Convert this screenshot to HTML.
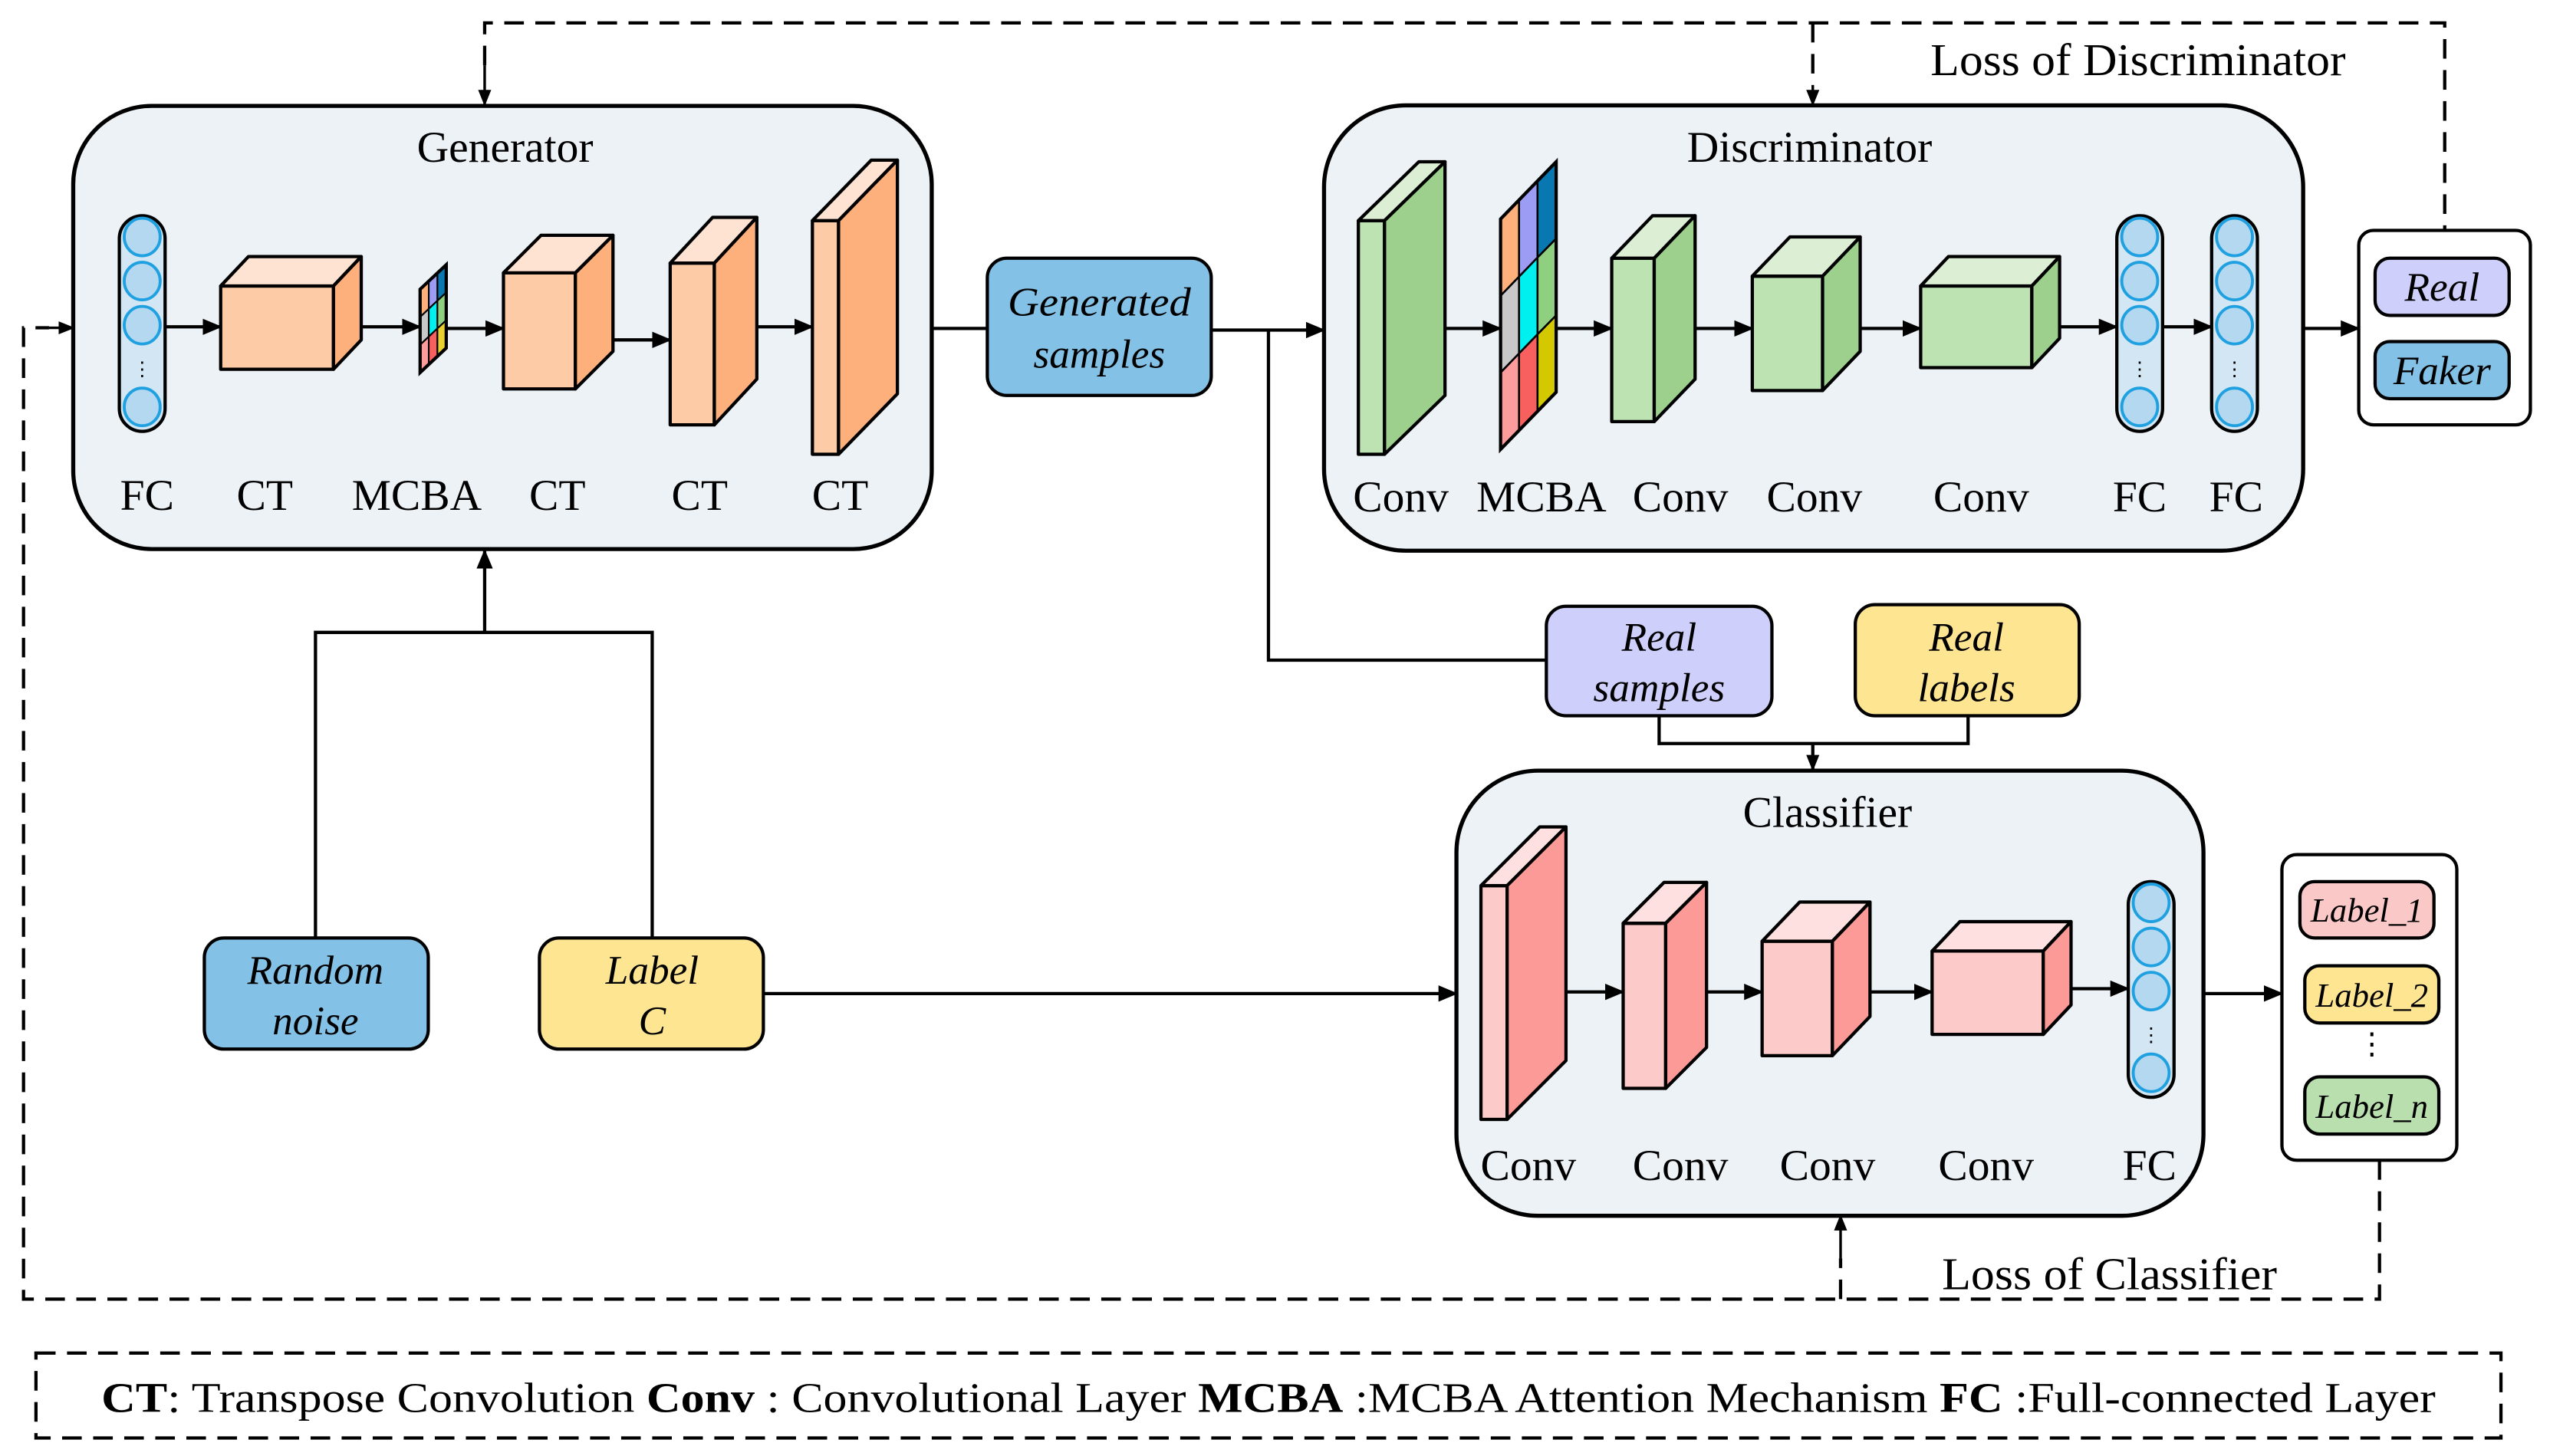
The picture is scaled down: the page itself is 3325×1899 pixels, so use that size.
<!DOCTYPE html>
<html><head><meta charset="utf-8">
<style>html,body{margin:0;padding:0;background:#fff;}svg{display:block;}</style></head>
<body>
<svg width="3325" height="1899" viewBox="0 0 1560 891" preserveAspectRatio="none" xmlns="http://www.w3.org/2000/svg" font-family="'Liberation Serif', serif">
<defs>
<marker id="ah" markerUnits="userSpaceOnUse" markerWidth="12" markerHeight="10" refX="11" refY="5" orient="auto"><path d="M0,0 L12,5 L0,10 Z" fill="#000"/></marker>
<marker id="ahs" markerUnits="userSpaceOnUse" markerWidth="10" markerHeight="8" refX="9" refY="4" orient="auto"><path d="M0,0 L10,4 L0,8 Z" fill="#000"/></marker>
</defs>
<g stroke="#000" fill="none" stroke-width="2" stroke-dasharray="12,7">
<polyline points="296.5,40 296.5,14 1495.6,14 1495.6,141"/>
<line x1="1109" y1="14" x2="1109" y2="52"/>
<polyline points="1455.7,710 1455.7,795 14.4,795 14.4,200.6 30,200.6"/>
<line x1="1126" y1="795" x2="1126" y2="770"/>
<rect x="22" y="828" width="1508" height="52"/>
</g>
<g stroke="#000" stroke-width="1.6">
<line x1="296.5" y1="40" x2="296.5" y2="64" marker-end="url(#ahs)"/>
<line x1="1109" y1="52" x2="1109" y2="64" marker-end="url(#ahs)"/>
<line x1="30" y1="200.6" x2="44.8" y2="200.6" marker-end="url(#ahs)"/>
<line x1="1126" y1="770" x2="1126" y2="744" marker-end="url(#ahs)"/>
</g>
<text x="1181" y="46" font-size="28" textLength="254" lengthAdjust="spacingAndGlyphs">Loss of Discriminator</text>
<text x="1188" y="789" font-size="28" textLength="205" lengthAdjust="spacingAndGlyphs">Loss of Classifier</text>

<g stroke="#000" stroke-width="2" fill="none">
<line x1="570" y1="201" x2="604" y2="201"/>
<line x1="741" y1="202" x2="810" y2="202" marker-end="url(#ah)"/>
<polyline points="776,202 776,404 946,404"/>
<polyline points="1015,438 1015,455 1204,455 1204,438"/>
<line x1="1109" y1="455" x2="1109" y2="471" marker-end="url(#ahs)"/>
<polyline points="193,574 193,387 399,387 399,574"/>
<line x1="296.5" y1="387" x2="296.5" y2="337" marker-end="url(#ah)"/>
<line x1="467" y1="608" x2="891" y2="608" marker-end="url(#ah)"/>
<line x1="1348" y1="608" x2="1396" y2="608" marker-end="url(#ah)"/>
<line x1="1409" y1="201" x2="1443" y2="201" marker-end="url(#ah)"/>
</g>

<rect x="44.8" y="64.8" width="525.2" height="271.2" rx="48" fill="#edf2f6" stroke="#000" stroke-width="2.5"/>
<text x="309" y="99" font-size="27" text-anchor="middle">Generator</text>
<g stroke="#000" stroke-width="2">
<line x1="100" y1="200" x2="135" y2="200" marker-end="url(#ah)"/>
<line x1="221" y1="200" x2="257" y2="200" marker-end="url(#ah)"/>
<line x1="273" y1="201" x2="308" y2="201" marker-end="url(#ah)"/>
<line x1="375" y1="208" x2="410" y2="208" marker-end="url(#ah)"/>
<line x1="463" y1="200" x2="497" y2="200" marker-end="url(#ah)"/>
</g>
<g id="fcg">
<rect x="73" y="132" width="28" height="132" rx="14" fill="#d3e6f3" stroke="#000" stroke-width="2"/>
<g fill="#b3d8f0" stroke="#1fa0e0" stroke-width="1.8">
<ellipse cx="87" cy="145" rx="11" ry="11.5"/><ellipse cx="87" cy="172" rx="11" ry="11.5"/><ellipse cx="87" cy="199" rx="11" ry="11.5"/><ellipse cx="87" cy="249" rx="11" ry="11.5"/>
</g>
<text x="87" y="230" font-size="12" text-anchor="middle">⋮</text>
</g>
<g stroke="#000" stroke-width="2" stroke-linejoin="round">
<rect x="135" y="175" width="69" height="51" fill="#fdcba5"/>
<polygon points="135,175 152,157 221,157 204,175" fill="#fee3d3"/>
<polygon points="204,175 221,157 221,208 204,226" fill="#fdb07c"/>
<rect x="308" y="167" width="44" height="71" fill="#fdcba5"/>
<polygon points="308,167 331,144 375,144 352,167" fill="#fee3d3"/>
<polygon points="352,167 375,144 375,215 352,238" fill="#fdb07c"/>
<rect x="410" y="161" width="27" height="99" fill="#fdcba5"/>
<polygon points="410,161 436,133 463,133 437,161" fill="#fee3d3"/>
<polygon points="437,161 463,133 463,232 437,260" fill="#fdb07c"/>
<rect x="497" y="135" width="16" height="143" fill="#fdcba5"/>
<polygon points="497,135 533,98 549,98 513,135" fill="#fee3d3"/>
<polygon points="513,135 549,98 549,241 513,278" fill="#fdb07c"/>
</g>
<g stroke="#000" stroke-width="1">
<polygon points="257,177 262.3,172 262.3,189 257,194" fill="#fdb07c"/>
<polygon points="257,194 262.3,189 262.3,206 257,211" fill="#c8c8c8"/>
<polygon points="257,211 262.3,206 262.3,223 257,228" fill="#fc9c9c"/>
<polygon points="262.3,172 267.6,167 267.6,184 262.3,189" fill="#9c9cf5"/>
<polygon points="262.3,189 267.6,184 267.6,201 262.3,206" fill="#00f0f0"/>
<polygon points="262.3,206 267.6,201 267.6,218 262.3,223" fill="#f86060"/>
<polygon points="267.6,167 273,162 273,179 267.6,184" fill="#0a78b0"/>
<polygon points="267.6,184 273,179 273,196 267.6,201" fill="#8fcf80"/>
<polygon points="267.6,201 273,196 273,213 267.6,218" fill="#e8d030"/>
<polygon points="257,177 273,162 273,213 257,228" fill="none" stroke-width="2"/>
</g>
<g font-size="27" text-anchor="middle">
<text x="90" y="312">FC</text><text x="162" y="312">CT</text><text x="255" y="312">MCBA</text><text x="341" y="312">CT</text><text x="428" y="312">CT</text><text x="514" y="312">CT</text>
</g>

<rect x="604" y="158" width="137" height="84" rx="12" fill="#84c1e6" stroke="#000" stroke-width="2"/>
<text x="672.5" y="193" font-size="25" font-style="italic" text-anchor="middle" textLength="112" lengthAdjust="spacingAndGlyphs">Generated</text>
<text x="672.5" y="225" font-size="25" font-style="italic" text-anchor="middle">samples</text>

<rect x="810" y="64.5" width="599" height="272.5" rx="50" fill="#edf2f6" stroke="#000" stroke-width="2.5"/>
<text x="1107" y="99" font-size="27" text-anchor="middle">Discriminator</text>
<g stroke="#000" stroke-width="2">
<line x1="884" y1="201" x2="918" y2="201" marker-end="url(#ah)"/>
<line x1="952" y1="201" x2="986" y2="201" marker-end="url(#ah)"/>
<line x1="1037" y1="201" x2="1072" y2="201" marker-end="url(#ah)"/>
<line x1="1138" y1="201" x2="1175" y2="201" marker-end="url(#ah)"/>
<line x1="1260" y1="200" x2="1295" y2="200" marker-end="url(#ah)"/>
<line x1="1322" y1="200" x2="1353" y2="200" marker-end="url(#ah)"/>
</g>
<g stroke="#000" stroke-width="2" stroke-linejoin="round">
<rect x="831" y="135" width="16" height="143" fill="#bde3b2"/>
<polygon points="831,135 868,99 884,99 847,135" fill="#dcefd5"/>
<polygon points="847,135 884,99 884,242 847,278" fill="#9dd08d"/>
<rect x="986" y="158" width="26" height="100" fill="#bde3b2"/>
<polygon points="986,158 1011,132 1037,132 1012,158" fill="#dcefd5"/>
<polygon points="1012,158 1037,132 1037,232 1012,258" fill="#9dd08d"/>
<rect x="1072" y="169" width="43" height="70" fill="#bde3b2"/>
<polygon points="1072,169 1095,145 1138,145 1115,169" fill="#dcefd5"/>
<polygon points="1115,169 1138,145 1138,215 1115,239" fill="#9dd08d"/>
<rect x="1175" y="175" width="68" height="50" fill="#bde3b2"/>
<polygon points="1175,175 1192,157 1260,157 1243,175" fill="#dcefd5"/>
<polygon points="1243,175 1260,157 1260,207 1243,225" fill="#9dd08d"/>
</g>
<g stroke="#000" stroke-width="1.2">
<polygon points="918,134 929.3,122.3 929.3,169.3 918,181" fill="#fdb07c"/>
<polygon points="918,181 929.3,169.3 929.3,216.3 918,228" fill="#c8c8c8"/>
<polygon points="918,228 929.3,216.3 929.3,263.3 918,275" fill="#fc9c9c"/>
<polygon points="929.3,122.3 940.6,110.6 940.6,157.6 929.3,169.3" fill="#9c9cf5"/>
<polygon points="929.3,169.3 940.6,157.6 940.6,204.6 929.3,216.3" fill="#00f0f0"/>
<polygon points="929.3,216.3 940.6,204.6 940.6,251.6 929.3,263.3" fill="#f86060"/>
<polygon points="940.6,110.6 952,99 952,146 940.6,157.6" fill="#0a78b0"/>
<polygon points="940.6,157.6 952,146 952,193 940.6,204.6" fill="#8fcf80"/>
<polygon points="940.6,204.6 952,193 952,240 940.6,251.6" fill="#d4c800"/>
<polygon points="918,134 952,99 952,240 918,275" fill="none" stroke-width="2"/>
</g>
<use href="#fcg" transform="translate(1222,0)"/>
<use href="#fcg" transform="translate(1280,0)"/>
<g font-size="27" text-anchor="middle">
<text x="857" y="313">Conv</text><text x="943" y="313">MCBA</text><text x="1028" y="313">Conv</text><text x="1110" y="313">Conv</text><text x="1212" y="313">Conv</text><text x="1309" y="313">FC</text><text x="1368" y="313">FC</text>
</g>

<rect x="1443" y="141" width="105" height="119" rx="9" fill="#fff" stroke="#000" stroke-width="2"/>
<rect x="1453" y="158" width="82" height="35" rx="9" fill="#cfcffc" stroke="#000" stroke-width="2"/>
<rect x="1453" y="209" width="82" height="35" rx="9" fill="#84c1e6" stroke="#000" stroke-width="2"/>
<text x="1494" y="184" font-size="25" font-style="italic" text-anchor="middle">Real</text>
<text x="1494" y="235" font-size="25" font-style="italic" text-anchor="middle">Faker</text>

<rect x="946" y="371" width="138" height="67" rx="12" fill="#cfcffc" stroke="#000" stroke-width="2"/>
<text x="1015" y="398" font-size="25" font-style="italic" text-anchor="middle">Real</text>
<text x="1015" y="429" font-size="25" font-style="italic" text-anchor="middle">samples</text>
<rect x="1135" y="370" width="137" height="68" rx="12" fill="#fde592" stroke="#000" stroke-width="2"/>
<text x="1203" y="398" font-size="25" font-style="italic" text-anchor="middle">Real</text>
<text x="1203" y="429" font-size="25" font-style="italic" text-anchor="middle">labels</text>

<rect x="125" y="574" width="137" height="68" rx="12" fill="#84c1e6" stroke="#000" stroke-width="2"/>
<text x="193" y="602" font-size="25" font-style="italic" text-anchor="middle">Random</text>
<text x="193" y="633" font-size="25" font-style="italic" text-anchor="middle">noise</text>
<rect x="330" y="574" width="137" height="68" rx="12" fill="#fde592" stroke="#000" stroke-width="2"/>
<text x="399" y="602" font-size="25" font-style="italic" text-anchor="middle">Label</text>
<text x="399" y="633" font-size="25" font-style="italic" text-anchor="middle">C</text>

<rect x="891" y="471.6" width="457" height="272.4" rx="50" fill="#edf2f6" stroke="#000" stroke-width="2.5"/>
<text x="1118" y="506" font-size="27" text-anchor="middle">Classifier</text>
<g stroke="#000" stroke-width="2">
<line x1="958" y1="607" x2="993" y2="607" marker-end="url(#ah)"/>
<line x1="1044" y1="607" x2="1078" y2="607" marker-end="url(#ah)"/>
<line x1="1144" y1="607" x2="1182" y2="607" marker-end="url(#ah)"/>
<line x1="1267" y1="605" x2="1302" y2="605" marker-end="url(#ah)"/>
</g>
<g stroke="#000" stroke-width="2" stroke-linejoin="round">
<rect x="906" y="542" width="16" height="143" fill="#fdcaca"/>
<polygon points="906,542 942,506 958,506 922,542" fill="#fee0e0"/>
<polygon points="922,542 958,506 958,649 922,685" fill="#fc9a98"/>
<rect x="993" y="565" width="26" height="101" fill="#fdcaca"/>
<polygon points="993,565 1018,540 1044,540 1019,565" fill="#fee0e0"/>
<polygon points="1019,565 1044,540 1044,641 1019,666" fill="#fc9a98"/>
<rect x="1078" y="576" width="43" height="70" fill="#fdcaca"/>
<polygon points="1078,576 1101,552 1144,552 1121,576" fill="#fee0e0"/>
<polygon points="1121,576 1144,552 1144,622 1121,646" fill="#fc9a98"/>
<rect x="1182" y="582" width="68" height="51" fill="#fdcaca"/>
<polygon points="1182,582 1199,564 1267,564 1250,582" fill="#fee0e0"/>
<polygon points="1250,582 1267,564 1267,615 1250,633" fill="#fc9a98"/>
</g>
<use href="#fcg" transform="translate(1229,407.5)"/>
<g font-size="27" text-anchor="middle">
<text x="935" y="722">Conv</text><text x="1028" y="722">Conv</text><text x="1118" y="722">Conv</text><text x="1215" y="722">Conv</text><text x="1315" y="722">FC</text>
</g>

<rect x="1396" y="523" width="107" height="187" rx="9" fill="#fff" stroke="#000" stroke-width="2"/>
<rect x="1407" y="539.5" width="82" height="34.5" rx="9" fill="#fbc8c8" stroke="#000" stroke-width="2"/>
<rect x="1410" y="591" width="82" height="35" rx="9" fill="#fde592" stroke="#000" stroke-width="2"/>
<rect x="1410" y="659" width="82" height="35" rx="9" fill="#b9dfae" stroke="#000" stroke-width="2"/>
<text x="1448" y="564" font-size="21" font-style="italic" text-anchor="middle">Label_1</text>
<text x="1451" y="616" font-size="21" font-style="italic" text-anchor="middle">Label_2</text>
<text x="1451" y="645" font-size="18" text-anchor="middle">⋮</text>
<text x="1451" y="684" font-size="21" font-style="italic" text-anchor="middle">Label_n</text>

<text x="62" y="864" font-size="26" textLength="1428" lengthAdjust="spacingAndGlyphs"><tspan font-weight="bold">CT</tspan>: Transpose Convolution <tspan font-weight="bold">Conv</tspan> : Convolutional Layer <tspan font-weight="bold">MCBA</tspan> :MCBA Attention Mechanism <tspan font-weight="bold">FC</tspan> :Full-connected Layer</text>
</svg>
</body></html>
